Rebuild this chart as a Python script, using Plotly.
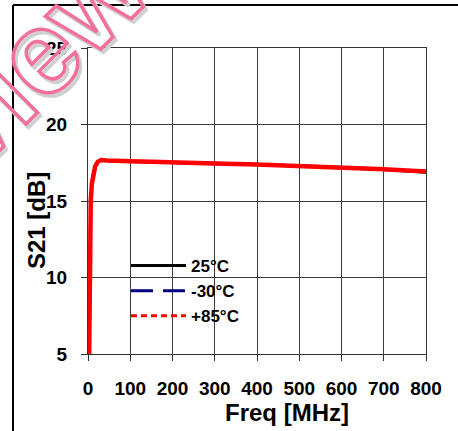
import plotly.graph_objects as go

# ---- data ----
freq_mhz = [2, 3, 4, 5, 6.5, 9, 12, 17, 23, 31, 45, 70, 100, 150, 200, 300, 400, 500, 600, 700, 800]
s21_25c = [3.0, 6.4, 9.9, 12.7, 14.9, 16.0, 16.6, 17.25, 17.55, 17.67, 17.64, 17.6, 17.58, 17.55, 17.5, 17.44, 17.38, 17.29, 17.17, 17.06, 16.88]
s21_m30c = [3.4, 7.0, 10.4, 13.2, 15.2, 16.2, 16.75, 17.3, 17.57, 17.68, 17.65, 17.61, 17.59, 17.56, 17.51, 17.45, 17.39, 17.3, 17.19, 17.08, 16.92]
s21_p85c = [3.1, 6.5, 10.0, 12.8, 15.0, 16.1, 16.65, 17.27, 17.56, 17.68, 17.65, 17.61, 17.59, 17.56, 17.51, 17.45, 17.39, 17.31, 17.19, 17.08, 16.93]
series_names = ["25°C", "-30°C", "+85°C"]
x_ticks = [0, 100, 200, 300, 400, 500, 600, 700, 800]
y_ticks = [5, 10, 15, 20, 25]
watermark = "Preview"

FONT = "Liberation Sans, Arial, sans-serif"

fig = go.Figure()

# plotted curves (no legend)
fig.add_trace(go.Scatter(x=freq_mhz, y=s21_25c, mode="lines", showlegend=False,
                         line=dict(color="black", width=3)))
fig.add_trace(go.Scatter(x=freq_mhz, y=s21_m30c, mode="lines", showlegend=False,
                         line=dict(color="#000080", width=3, dash="22px,10px")))
fig.add_trace(go.Scatter(x=freq_mhz, y=s21_p85c, mode="lines", showlegend=False,
                         line=dict(color="#ff0000", width=4.5)))

# legend entries
fig.add_trace(go.Scatter(x=[None], y=[None], mode="lines", name=series_names[0],
                         line=dict(color="black", width=3)))
fig.add_trace(go.Scatter(x=[None], y=[None], mode="lines", name=series_names[1],
                         line=dict(color="#000080", width=3, dash="22px,10px")))
fig.add_trace(go.Scatter(x=[None], y=[None], mode="lines", name=series_names[2],
                         line=dict(color="#ff0000", width=3, dash="6px,4px")))

axis_common = dict(
    showgrid=True, gridcolor="#3c3c3c", gridwidth=1,
    showline=True, linecolor="#333333", linewidth=1, mirror=True,
    ticks="outside", ticklen=6, tickcolor="#333333", tickwidth=1,
    tickfont=dict(family=FONT, size=19, color="black", weight="bold"),
    zeroline=False,
)

fig.update_xaxes(range=[0, 800], tickvals=x_ticks, ticklabelstandoff=11, **axis_common)
fig.update_yaxes(range=[5, 25], tickvals=y_ticks, ticklabelstandoff=10, **axis_common)

L, T, W, H = 88, 48, 338, 306
def px(xp):
    return (xp - L) / W
def py(yp):
    return (T + H - yp) / H

wm_x, wm_y, wm_angle, wm_size = -32, 124, -45, 118

fig.update_layout(
    width=458, height=431,
    margin=dict(l=88, r=32, t=48, b=77),
    paper_bgcolor="white", plot_bgcolor="white",
    font=dict(family=FONT, color="black"),
    legend=dict(
        x=px(126), y=py(248), xanchor="left", yanchor="top",
        bgcolor="rgba(0,0,0,0)", borderwidth=0,
        font=dict(family=FONT, size=17, color="black", weight="bold"),
        itemwidth=55, tracegroupgap=0,
    ),
    annotations=[
        dict(text="Freq [MHz]", xref="paper", yref="paper", x=px(286.7), y=py(412),
             xanchor="center", yanchor="middle", showarrow=False,
             font=dict(family=FONT, size=24, color="black", weight="bold")),
        dict(text="S21 [dB]", xref="paper", yref="paper", x=px(36), y=py(221),
             xanchor="center", yanchor="middle", showarrow=False, textangle=-90,
             font=dict(family=FONT, size=24, color="black", weight="bold")),
        dict(text='<span style="stroke:#d0d0d0;stroke-width:4px">' + watermark + '</span>',
             xref="paper", yref="paper", x=px(wm_x + 2.5), y=py(wm_y + 2.5),
             xanchor="center", yanchor="middle", showarrow=False, textangle=wm_angle,
             font=dict(family=FONT, size=wm_size, color="rgba(0,0,0,0)", weight="bold")),
        dict(text='<span style="stroke:#f2709a;stroke-width:3.5px">' + watermark + '</span>',
             xref="paper", yref="paper", x=px(wm_x), y=py(wm_y),
             xanchor="center", yanchor="middle", showarrow=False, textangle=wm_angle,
             font=dict(family=FONT, size=wm_size, color="rgba(0,0,0,0)", weight="bold")),
    ],
    shapes=[
        dict(type="line", xref="paper", yref="paper", x0=px(13), x1=px(13),
             y0=py(5), y1=py(431), line=dict(color="black", width=2)),
        dict(type="line", xref="paper", yref="paper", x0=px(13), x1=px(458),
             y0=py(5), y1=py(5), line=dict(color="black", width=2)),
    ],
)

fig.write_html("out.html", config={"displayModeBar": False},
               post_script="document.body.style.margin='0';document.body.style.overflow='hidden';")
